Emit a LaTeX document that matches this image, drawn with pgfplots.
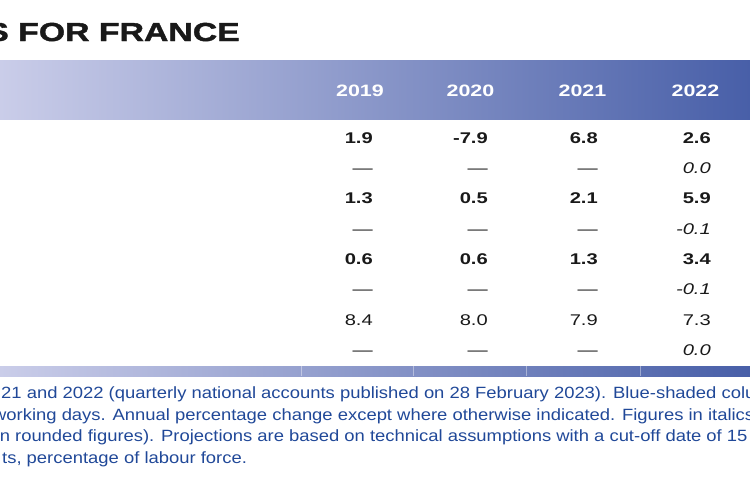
\documentclass[border=0pt]{standalone}
\usepackage{pgfplots}
\pgfplotsset{compat=1.18}
\usepackage{fontspec}
\setmainfont{Liberation Sans}[FakeStretch=1.3]
\newfontfamily\titlefont{Liberation Sans Bold}[FakeStretch=1.3, FakeBold=1.6]
\newfontfamily\notefont{Liberation Sans}[FakeStretch=1.13]
\definecolor{bandL}{RGB}{202,205,233}
\definecolor{bandR}{RGB}{72,95,168}
\definecolor{noteblue}{RGB}{32,72,152}
\definecolor{titleblack}{RGB}{25,25,25}
\begin{document}
\begin{tikzpicture}
\useasboundingbox (0,0) rectangle (750bp,500bp);
\clip (0,0) rectangle (750bp,500bp);
\begin{axis}[at={(0,0)}, anchor=south west, scale only axis,
  width=750bp, height=500bp, xmin=0, xmax=750, ymin=0, ymax=500,
  y dir=reverse, hide axis, clip=false,
  point meta=explicit symbolic]
% header band
\addplot[draw=none, left color=bandL, right color=bandR] coordinates {(0,60) (750,60) (750,119) (0,119)} -- cycle;
% bottom band
\addplot[draw=none, left color=bandL, right color=bandR] coordinates {(0,366) (750,366) (750,376) (0,376)} -- cycle;
\addplot[white, opacity=0.4, line width=1bp] coordinates {(302,366) (302,376)};
\addplot[white, opacity=0.4, line width=1bp] coordinates {(414,366) (414,376)};
\addplot[white, opacity=0.4, line width=1bp] coordinates {(527,366) (527,376)};
\addplot[white, opacity=0.4, line width=1bp] coordinates {(641,366) (641,376)};
% years
\addplot[draw=none, nodes near coords,
  every node near coord/.append style={anchor=base, text=white, inner sep=0pt,
  font=\bfseries\fontsize{16.5bp}{18bp}\selectfont}]
  coordinates {(360,96.5) [2019] (470.5,96.5) [2020] (582.5,96.5) [2021] (695.5,96.5) [2022]};
% bold rows
\addplot[draw=none, nodes near coords,
  every node near coord/.append style={anchor=base east, text=titleblack, inner sep=0pt,
  font=\bfseries\fontsize{15.5bp}{17bp}\selectfont}]
  coordinates {(373,143) [1.9] (488,143) [-7.9] (598,143) [6.8] (711,143) [2.6]
               (373,203.5) [1.3] (488,203.5) [0.5] (598,203.5) [2.1] (711,203.5) [5.9]
               (373,264) [0.6] (488,264) [0.6] (598,264) [1.3] (711,264) [3.4]};
% regular row and dashes
\addplot[draw=none, nodes near coords,
  every node near coord/.append style={anchor=base east, text=titleblack, inner sep=0pt,
  font=\fontsize{15.5bp}{17bp}\selectfont}]
  coordinates {(373,325) [8.4] (488,325) [8.0] (598,325) [7.9] (711,325) [7.3]
               (373,173.5) [\textemdash] (488,173.5) [\textemdash] (598,173.5) [\textemdash]
               (373,234) [\textemdash] (488,234) [\textemdash] (598,234) [\textemdash]
               (373,294.5) [\textemdash] (488,294.5) [\textemdash] (598,294.5) [\textemdash]
               (373,355) [\textemdash] (488,355) [\textemdash] (598,355) [\textemdash]};
% italic values
\addplot[draw=none, nodes near coords,
  every node near coord/.append style={anchor=base east, text=titleblack, inner sep=0pt,
  font=\itshape\fontsize{15.5bp}{17bp}\selectfont}]
  coordinates {(711,173.5) [0.0] (711,234) [-0.1] (711,294.5) [-0.1] (711,355) [0.0]};
% title
\node[anchor=base east, inner sep=0pt, text=titleblack,
  font=\titlefont\fontsize{26bp}{30bp}\selectfont] at (axis cs:240,41) {PROJECTIONS FOR FRANCE};
% footnote
\begin{scope}[every node/.style={anchor=base west, inner sep=0pt, text=noteblue,
  font=\notefont\fontsize{16.3bp}{20bp}\selectfont}]
\node at (axis cs:1,398.5) {21 and 2022 (quarterly national accounts published on 28 February 2023). Blue-shaded columns show projections.};
\node at (axis cs:-7,420) {working days. Annual percentage change except where otherwise indicated. Figures in italics show revisions.};
\node at (axis cs:-4.5,441.5) {in rounded figures). Projections are based on technical assumptions with a cut-off date of 15 February 2023.};
\node at (axis cs:2,463) {ts, percentage of labour force.};
\end{scope}
\end{axis}
\end{tikzpicture}
\end{document}
